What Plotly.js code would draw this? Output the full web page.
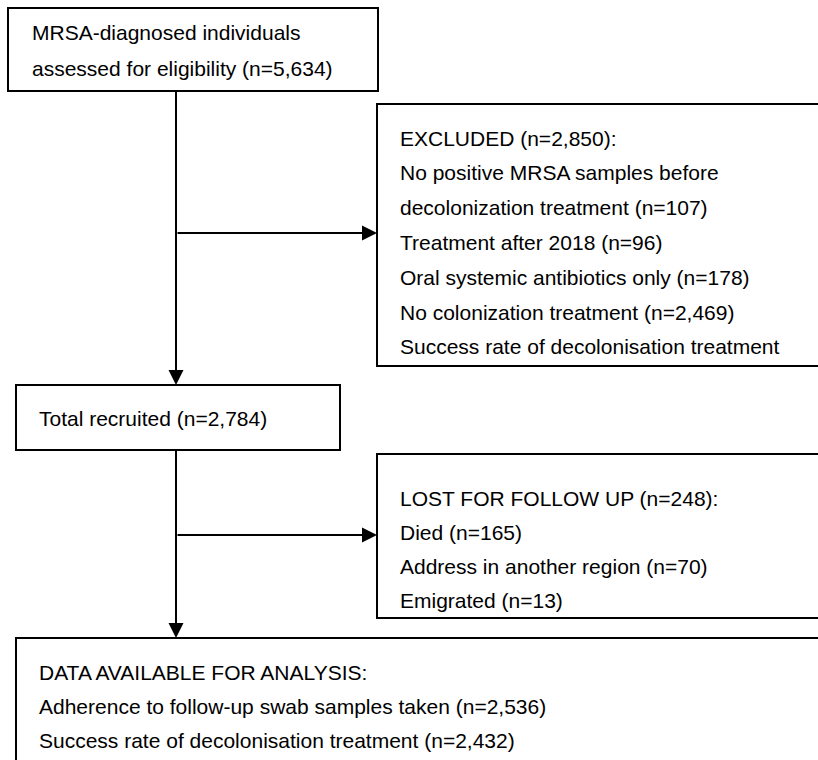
<!DOCTYPE html>
<html>
<head>
<meta charset="utf-8">
<script src="https://cdn.plot.ly/plotly-3.0.1.min.js"></script>
<style>html,body{margin:0;padding:0;background:#fff}#chart{width:818px;height:760px}</style>
</head>
<body>
<div id="chart"></div>
<script>
// ---- data ----
const assessedLines = ['MRSA-diagnosed individuals', 'assessed for eligibility (n=5,634)'];
const excludedLines = ['EXCLUDED (n=2,850):', 'No positive MRSA samples before', 'decolonization treatment (n=107)', 'Treatment after 2018 (n=96)', 'Oral systemic antibiotics only (n=178)', 'No colonization treatment (n=2,469)', 'Success rate of decolonisation treatment'];
const recruitedLines = ['Total recruited (n=2,784)'];
const lostLines = ['LOST FOR FOLLOW UP (n=248):', 'Died (n=165)', 'Address in another region (n=70)', 'Emigrated (n=13)'];
const analysisLines = ['DATA AVAILABLE FOR ANALYSIS:', 'Adherence to follow-up swab samples taken (n=2,536)', 'Success rate of decolonisation treatment (n=2,432)'];

// ---- layout geometry (pixels, y downwards) ----
const FONT = {family: 'Liberation Sans, Arial, sans-serif', size: 21, color: '#000'};
const boxes = [
  {x0: 8,   x1: 378, y0: 8,   y1: 91,  tx: 30,  ty: 32,  dy: 36, lines: assessedLines},
  {x0: 377, x1: 830, y0: 104, y1: 366, tx: 398, ty: 138, dy: 34.8, lines: excludedLines},
  {x0: 16,  x1: 340, y0: 385, y1: 450, tx: 37,  ty: 418, dy: 35, lines: recruitedLines},
  {x0: 377, x1: 830, y0: 454, y1: 618, tx: 398, ty: 498, dy: 34, lines: lostLines},
  {x0: 16,  x1: 830, y0: 638, y1: 790, tx: 37,  ty: 672, dy: 34, lines: analysisLines}
];
const shapes = [];
const annotations = [];
boxes.forEach(b => {
  shapes.push({type: 'rect', xref: 'x', yref: 'y', x0: b.x0, x1: b.x1, y0: b.y0, y1: b.y1,
               line: {color: '#000', width: 2}, fillcolor: 'rgba(0,0,0,0)', layer: 'above'});
  b.lines.forEach((t, i) => {
    annotations.push({xref: 'x', yref: 'y', x: b.tx, y: b.ty + i * b.dy, text: t, showarrow: false,
                      xanchor: 'left', yanchor: 'middle', font: FONT});
  });
});
// connector lines
const VX = 176;
shapes.push({type: 'line', xref: 'x', yref: 'y', x0: VX, x1: VX, y0: 91, y1: 370, line: {color: '#000', width: 2}});
shapes.push({type: 'line', xref: 'x', yref: 'y', x0: VX, x1: VX, y0: 450, y1: 622, line: {color: '#000', width: 2}});
// arrows
function arrow(x0, y0, x1, y1) {
  annotations.push({xref: 'x', yref: 'y', axref: 'x', ayref: 'y', x: x1, y: y1, ax: x0, ay: y0,
    text: '', showarrow: true, arrowhead: 2, arrowsize: 1.5, arrowwidth: 2, arrowcolor: '#000',
    standoff: 0, startstandoff: 0});
}
arrow(VX, 300, VX, 385);
arrow(VX, 233, 377, 233);
arrow(VX, 600, VX, 638);
arrow(VX, 535, 377, 535);

const layout = {
  width: 818, height: 760,
  margin: {l: 0, r: 0, t: 0, b: 0},
  paper_bgcolor: '#fff', plot_bgcolor: '#fff',
  xaxis: {range: [0, 818], visible: false, fixedrange: true},
  yaxis: {range: [760, 0], visible: false, fixedrange: true},
  showlegend: false,
  shapes: shapes,
  annotations: annotations
};
Plotly.newPlot('chart', [], layout, {staticPlot: true, displayModeBar: false});
</script>
</body>
</html>
